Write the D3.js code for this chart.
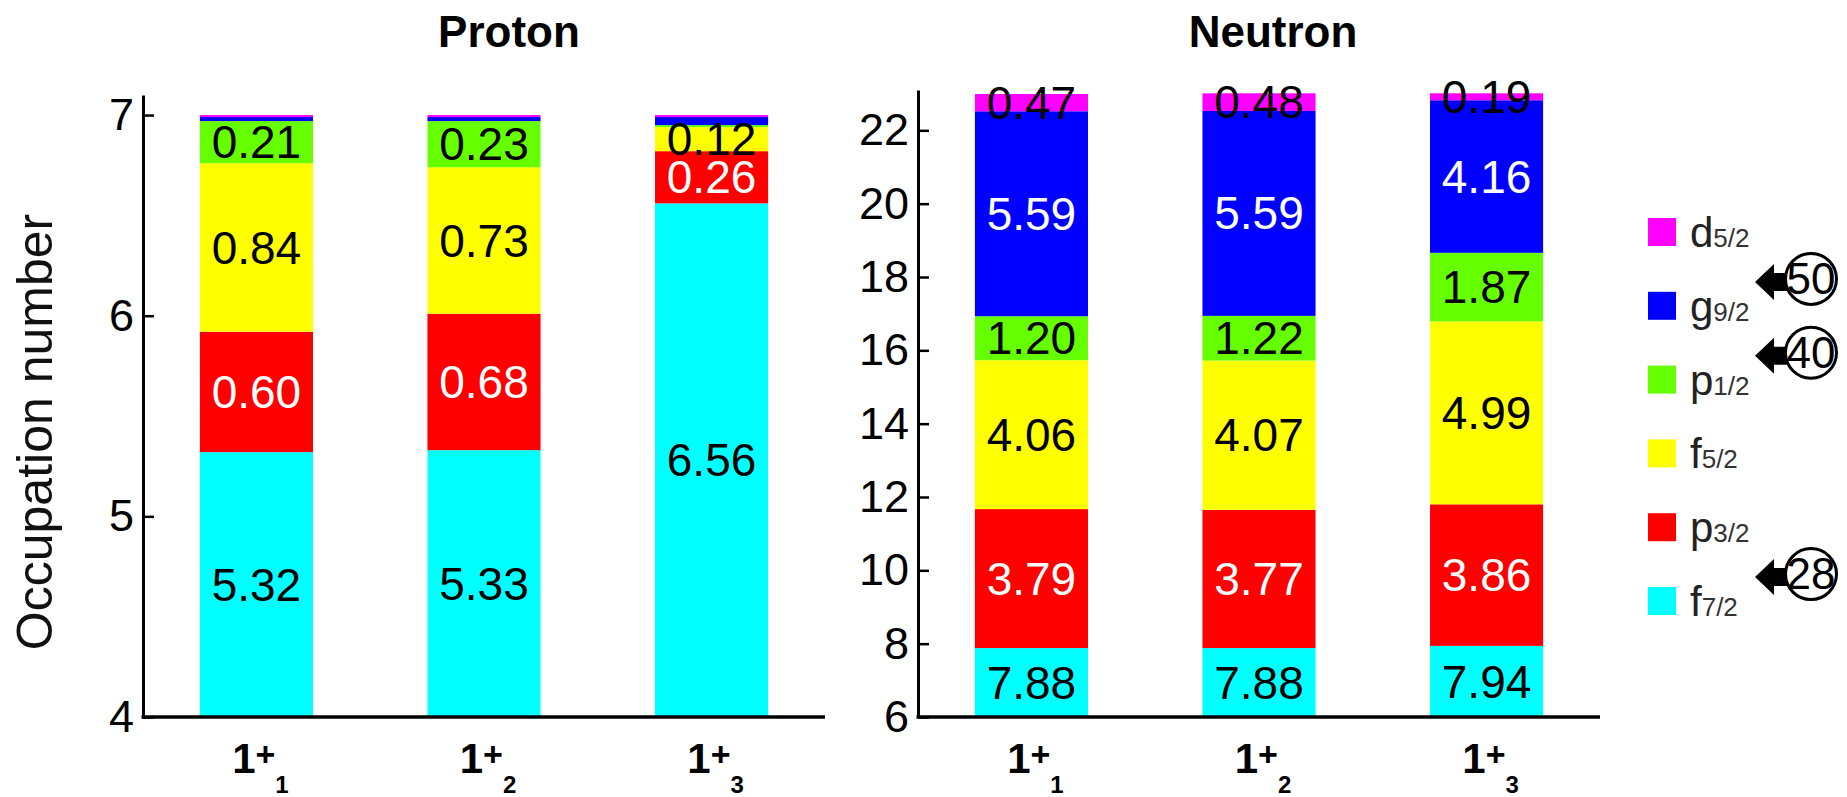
<!DOCTYPE html>
<html>
<head>
<meta charset="utf-8">
<script src="https://cdn.jsdelivr.net/npm/d3@7"></script>
<style>
  html, body { margin: 0; padding: 0; background: #ffffff; }
  svg { display: block; }
  text { font-family: "Liberation Sans", Arial, sans-serif; }
</style>
</head>
<body>
<svg id="chart" width="1847" height="797"></svg>
<script>
// ---------------- data ----------------
const states = ["1+1", "1+2", "1+3"];
const stateMain = ["1", "1", "1"];
const stateSup = ["+", "+", "+"];
const stateSub = ["1", "2", "3"];

const orbitals = ["f7/2", "p3/2", "f5/2", "p1/2", "g9/2", "d5/2"];
const orbitalLetter = ["f", "p", "f", "p", "g", "d"];
const orbitalSub = ["7/2", "3/2", "5/2", "1/2", "9/2", "5/2"];
const orbitalColors = ["#00ffff", "#ff0000", "#ffff00", "#66ff00", "#0000ff", "#ff00ff"];
const labelColors = ["#000000", "#ffffff", "#000000", "#000000", "#ffffff", "#000000"];

// proton occupation numbers (per state 1+1, 1+2, 1+3)
const proton_f72 = [5.32, 5.33, 6.56];
const proton_p32 = [0.60, 0.68, 0.26];
const proton_f52 = [0.84, 0.73, 0.12];
const proton_p12 = [0.21, 0.23, 0.01];
const proton_g92 = [0.02, 0.02, 0.04];
const proton_d52 = [0.01, 0.01, 0.01];

// neutron occupation numbers
const neutron_f72 = [7.88, 7.88, 7.94];
const neutron_p32 = [3.79, 3.77, 3.86];
const neutron_f52 = [4.06, 4.07, 4.99];
const neutron_p12 = [1.20, 1.22, 1.87];
const neutron_g92 = [5.59, 5.59, 4.16];
const neutron_d52 = [0.47, 0.48, 0.19];

const protonTicks = [4, 5, 6, 7];
const neutronTicks = [6, 8, 10, 12, 14, 16, 18, 20, 22];
const protonDomain = [4, 7.1];
const neutronDomain = [6, 23.1];

// shell closures shown next to the legend: magic number, lower orbital index
const magicNumbers = [50, 40, 28];
const magicBelow = ["g9/2", "p1/2", "f7/2"];

// ---------------- drawing ----------------
const svg = d3.select("#chart");

function buildRows(series) {
  return states.map((s, i) => {
    const row = { state: s };
    orbitals.forEach((o, k) => { row[o] = series[k][i]; });
    return row;
  });
}

function drawPanel(opts) {
  const { left, right, top, bottom, domain, ticks, series, title, titleX } = opts;
  const g = svg.append("g");
  const rows = buildRows(series);
  const stack = d3.stack().keys(orbitals)(rows);

  const x = d3.scaleBand().domain(states).range([left, right])
    .paddingInner(0.503).paddingOuter(0.25);
  const y = d3.scaleLinear().domain(domain).range([bottom, top]);
  const lo = domain[0];

  // bars
  stack.forEach((layer, k) => {
    g.append("g").selectAll("rect").data(layer).enter().append("rect")
      .attr("x", d => x(d.data.state))
      .attr("width", x.bandwidth())
      .attr("y", d => y(d[1]))
      .attr("height", d => Math.max(0, y(Math.max(d[0], lo)) - y(d[1])))
      .attr("fill", orbitalColors[k]);
  });

  // segment labels
  stack.forEach((layer, k) => {
    g.append("g").selectAll("text").data(layer.filter(d => d[1] - d[0] >= 0.1)).enter()
      .append("text")
      .attr("x", d => x(d.data.state) + x.bandwidth() / 2)
      .attr("y", d => y((Math.max(d[0], lo) + d[1]) / 2))
      .attr("dy", "0.35em")
      .attr("text-anchor", "middle")
      .attr("font-size", 46)
      .attr("fill", labelColors[k])
      .text(d => (d[1] - d[0]).toFixed(2));
  });

  // y axis
  const yAxis = d3.axisLeft(y).tickValues(ticks).tickFormat(d3.format("d"))
    .tickSizeInner(-11).tickSizeOuter(0).tickPadding(9);
  const ya = g.append("g").attr("transform", `translate(${left},0)`).call(yAxis);
  ya.select(".domain").attr("stroke", "#000").attr("stroke-width", 3);
  ya.selectAll(".tick line").attr("stroke", "#000").attr("stroke-width", 2.5);
  ya.selectAll(".tick text").attr("font-size", 45).attr("fill", "#000")
    .attr("font-family", "Liberation Sans, Arial, sans-serif");

  // x axis line
  const xAxis = d3.axisBottom(x).tickSize(0).tickFormat("");
  const xa = g.append("g").attr("transform", `translate(0,${bottom})`).call(xAxis);
  xa.select(".domain").attr("stroke", "#000").attr("stroke-width", 3.5)
    .attr("d", `M${left - 1.5},0H${right}`);

  // x labels: 1^+_n
  states.forEach((s, i) => {
    const t = g.append("text")
      .attr("x", x(s) + x.bandwidth() / 2 + 4)
      .attr("y", bottom + 56)
      .attr("text-anchor", "middle")
      .attr("font-weight", "bold")
      .attr("fill", "#000");
    t.append("tspan").attr("font-size", 42).text(stateMain[i]);
    t.append("tspan").attr("font-size", 34).attr("dy", -7.5).text(stateSup[i]);
    t.append("tspan").attr("font-size", 24).attr("dy", 27.5).text(stateSub[i]);
  });

  // title
  g.append("text").attr("x", titleX).attr("y", 47)
    .attr("text-anchor", "middle").attr("font-size", 44).attr("font-weight", "bold")
    .attr("fill", "#000").text(title);
}

drawPanel({
  left: 143, right: 825, top: 95, bottom: 717,
  domain: protonDomain, ticks: protonTicks,
  series: [proton_f72, proton_p32, proton_f52, proton_p12, proton_g92, proton_d52],
  title: "Proton", titleX: 509
});

drawPanel({
  left: 918, right: 1600, top: 90, bottom: 717,
  domain: neutronDomain, ticks: neutronTicks,
  series: [neutron_f72, neutron_p32, neutron_f52, neutron_p12, neutron_g92, neutron_d52],
  title: "Neutron", titleX: 1273
});

// y-axis title
svg.append("text")
  .attr("transform", "translate(52,432) rotate(-90)")
  .attr("text-anchor", "middle")
  .attr("font-size", 50)
  .attr("fill", "#111")
  .text("Occupation number");

// legend (top entry = last orbital)
const legendOrder = orbitals.slice().reverse();
const ly = d3.scalePoint().domain(legendOrder).range([232, 601]);
const legend = svg.append("g");
legendOrder.forEach(o => {
  const k = orbitals.indexOf(o);
  const cy = ly(o);
  legend.append("rect").attr("x", 1648).attr("y", cy - 14)
    .attr("width", 28).attr("height", 28).attr("fill", orbitalColors[k]);
  const t = legend.append("text").attr("x", 1690).attr("y", cy + 15)
    .attr("fill", "#222");
  t.append("tspan").attr("font-size", 42).text(orbitalLetter[k]);
  t.append("tspan").attr("font-size", 26).attr("fill", "#333").text(orbitalSub[k]);
});

// magic number markers
magicNumbers.forEach((m, i) => {
  const below = magicBelow[i];
  const idx = legendOrder.indexOf(below);
  const cy = (ly(legendOrder[idx]) + ly(legendOrder[idx - 1])) / 2 + 10;
  const cx = 1811;
  const mg = legend.append("g");
  mg.append("path")
    .attr("d", `M1755,${cy + 3} L1774,${cy - 15} L1774,${cy - 6} L1787,${cy - 6} L1787,${cy + 12} L1774,${cy + 12} L1774,${cy + 21} Z`)
    .attr("fill", "#000");
  mg.append("circle").attr("cx", cx).attr("cy", cy).attr("r", 25.5)
    .attr("fill", "#fff").attr("stroke", "#000").attr("stroke-width", 3);
  mg.append("text").attr("x", cx).attr("y", cy).attr("dy", "0.34em")
    .attr("text-anchor", "middle")
    .attr("font-family", "Liberation Serif, Times New Roman, serif")
    .attr("font-size", 44).attr("fill", "#000").text(m);
});
</script>
</body>
</html>
